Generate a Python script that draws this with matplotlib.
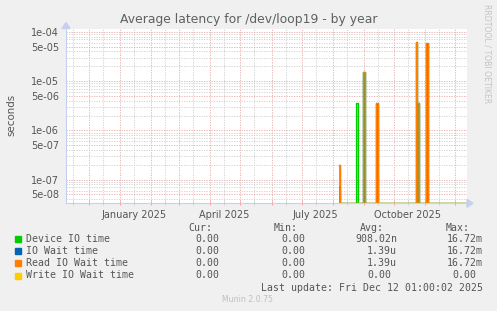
import matplotlib
matplotlib.use("Agg")
import matplotlib.pyplot as plt
import matplotlib.dates as mdates
import numpy as np
import datetime as dt

# ---------------- data ----------------
title = "Average latency for /dev/loop19 - by year"
ylabel = "seconds"

dates = ["2025-08-07", "2025-08-08", "2025-08-24", "2025-08-26", "2025-08-31",
         "2025-09-02", "2025-09-13", "2025-09-15", "2025-10-23", "2025-10-24",
         "2025-10-26", "2025-11-02", "2025-11-04", "2025-12-12"]
device_io = [7e-8, 0, 3.6e-6, 0, 1.5e-5, 0, 3.5e-6, 0, 5.9e-5, 3.6e-6, 0, 5.8e-5, 0, 0]
io_wait = [2e-7, 0, 0, 0, 1.55e-5, 0, 3.6e-6, 0, 6.1e-5, 3.6e-6, 0, 6.0e-5, 0, 0]
read_wait = [2e-7, 0, 0, 0, 1.55e-5, 0, 3.6e-6, 0, 6.1e-5, 3.6e-6, 0, 6.0e-5, 0, 0]
write_wait = [0, 0, 0, 0, 0, 0, 0, 0, 0, 0, 0, 0, 0, 0]

series_names = ["Device IO time", "IO Wait time", "Read IO Wait time", "Write IO Wait time"]
series_colors = ["#00CC00", "#0066B3", "#FF8000", "#FFCC00"]
cur_vals = ["0.00", "0.00", "0.00", "0.00"]
min_vals = ["0.00", "0.00", "0.00", "0.00"]
avg_vals = ["908.02n", "1.39u", "1.39u", "0.00"]
max_vals = ["16.72m", "16.72m", "16.72m", "0.00"]

xtick_dates = ["2025-01-15", "2025-04-15", "2025-07-15", "2025-10-15"]
xtick_labels = ["January 2025", "April 2025", "July 2025", "October 2025"]
ytick_major = [5e-8, 1e-7, 5e-7, 1e-6, 5e-6, 1e-5, 5e-5, 1e-4]
ytick_labels = ["5e-08", "1e-07", "5e-07", "1e-06", "5e-06", "1e-05", "5e-05", "1e-04"]

last_update = "Last update: Fri Dec 12 01:00:02 2025"
munin_ver = "Munin 2.0.75"
side_text = "RRDTOOL / TOBI OETIKER"

# ---------------- layout ----------------
W, H = 497, 311
YMIN, YMAX = 3.3e-8, 1.17e-4
X0, X1 = dt.datetime(2024, 11, 8), dt.datetime(2025, 12, 13)

fig = plt.figure(figsize=(W / 100, H / 100), dpi=100, facecolor="#F0F0F0")
L, R, T, B = 66, 467, 28.5, 203.3
ax = fig.add_axes([L / W, 1 - B / H, (R - L) / W, (B - T) / H])
ax.set_facecolor("white")
ax.set_yscale("log")
ax.set_ylim(YMIN, YMAX)
ax.set_xlim(mdates.date2num(X0), mdates.date2num(X1))

x = mdates.date2num([dt.datetime.strptime(d, "%Y-%m-%d") for d in dates])
all_series = [device_io, io_wait, read_wait, write_wait]
fill_alpha = [0.55, 0.15, 0.75, 0.5]
for vals, col, fa in zip(all_series, series_colors, fill_alpha):
    v = np.clip(np.array(vals, dtype=float), YMIN, None)
    ax.fill_between(x, YMIN, v, step="post", color=col, alpha=fa, lw=0, zorder=3)
    ax.plot(x, v, drawstyle="steps-post", color=col, lw=0.9, zorder=4)

# grid
red = "#E8A8A8"
gray = "#CFCFCF"
ax.set_yticks(ytick_major)
ax.set_yticklabels(ytick_labels)
minor_y = [m * 10.0 ** e for e in range(-8, -3) for m in (2, 3, 4, 6, 7, 8, 9)]
ax.set_yticks([v for v in minor_y if YMIN < v < YMAX], minor=True)
ax.yaxis.set_minor_formatter(matplotlib.ticker.NullFormatter())

month_starts = [dt.datetime(2024, 12, 1)] + [dt.datetime(2025, m, 1) for m in range(1, 13)]
mid_months = [dt.datetime(2024, 11, 15), dt.datetime(2024, 12, 15)] + \
             [dt.datetime(2025, m, 15) for m in range(1, 12)]
ax.set_xticks(mdates.date2num(month_starts))
ax.set_xticklabels([])
ax.set_xticks(mdates.date2num(mid_months), minor=True)
xl = {mdates.date2num(dt.datetime.strptime(d, "%Y-%m-%d")): t for d, t in zip(xtick_dates, xtick_labels)}
ax.xaxis.set_minor_formatter(matplotlib.ticker.FuncFormatter(
    lambda v, p: next((t for k, t in xl.items() if abs(k - v) < 0.5), "")))

ax.grid(which="major", color=red, lw=0.6, linestyle=(0, (1.5, 1.5)), zorder=1)
ax.grid(which="minor", color=gray, lw=0.6, linestyle=(0, (1.5, 1.5)), zorder=1)
ax.set_axisbelow(True)

txtc = "#555555"
ax.tick_params(axis="y", which="both", length=0, pad=5, labelsize=7, labelcolor=txtc)
ax.tick_params(axis="x", which="major", length=3.5, direction="inout", color="#E89090", width=0.6)
ax.tick_params(axis="x", which="minor", length=3.5, direction="inout", color="#C8C8C8", width=0.6,
               labelsize=7, labelcolor=txtc, pad=3)

for s in ("top", "right"):
    ax.spines[s].set_visible(False)
axc = "#C8D0F0"
for s in ("left", "bottom"):
    ax.spines[s].set_color(axc)
    ax.spines[s].set_linewidth(0.8)
    ax.spines[s].set_zorder(2)

# axis arrows
fig.patches.append(matplotlib.patches.FancyArrow(
    R / W, 1 - B / H, 6 / W, 0, width=0.0, head_width=8 / H, head_length=6 / W,
    length_includes_head=True, color=axc, transform=fig.transFigure, figure=fig))
fig.patches.append(matplotlib.patches.FancyArrow(
    L / W, 1 - T / H, 0, 6 / H, width=0.0, head_width=8 / W, head_length=6 / H,
    length_includes_head=True, color=axc, transform=fig.transFigure, figure=fig))

# texts
def fx(px):
    return px / W

def fy(py):
    return 1 - py / H

fig.text(fx(248.5), fy(19), title, ha="center", va="center", fontsize=8.9, color="#606060")
fig.text(fx(11), fy(115), ylabel, ha="center", va="center", rotation=90, fontsize=7.4, color=txtc)
fig.text(fx(487), fy(54), side_text, ha="center", va="center", rotation=270, fontsize=5.6, color="#C4C4C4")

mono = dict(family="DejaVu Sans Mono", fontsize=7.15, color=txtc, va="center")
hdr_y = 228.3
for lbl, xr in zip(["Cur:", "Min:", "Avg:", "Max:"], [212.7, 298, 384, 470]):
    fig.text(fx(xr), fy(hdr_y), lbl, ha="right", **mono)
row_y = [239.3, 251.3, 263.3, 275.5]
col_right = [219, 305, 397, 482.7]
for i, name in enumerate(series_names):
    y = row_y[i]
    fig.patches.append(matplotlib.patches.Rectangle(
        (fx(14.5), fy(y + 3)), 6 / W, 6 / H, color=series_colors[i], transform=fig.transFigure, figure=fig))
    fig.text(fx(26), fy(y), name, ha="left", **mono)
    for j, val in enumerate([cur_vals[i], min_vals[i], avg_vals[i], max_vals[i]]):
        xr = col_right[j]
        if j >= 2 and val[-1].isdigit():
            xr -= 6
        fig.text(fx(xr), fy(y), val, ha="right", **mono)
fig.text(fx(482.7), fy(287.7), last_update, ha="right", **mono)
fig.text(fx(247.7), fy(299.3), munin_ver, ha="center", va="center", fontsize=5.6, color="#C0C0C0")

fig.savefig("out.png", dpi=100, facecolor=fig.get_facecolor())
